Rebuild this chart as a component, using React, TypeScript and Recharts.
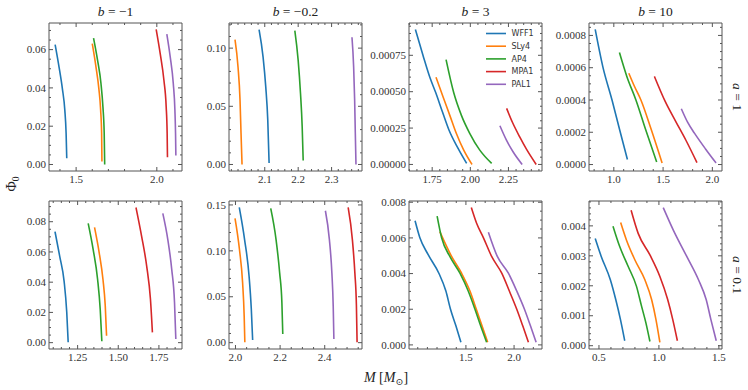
import React from 'react';
import { LineChart, Line, XAxis, YAxis, ReferenceArea } from 'recharts';

type Pt = [number, number];
type Series = { eos: string; pts: Pt[] };

const EOS_NAMES = ['WFF1', 'SLy4', 'AP4', 'MPA1', 'PAL1'];
const EOS_COLORS: Record<string, string> = {
  WFF1: '#1f77b4',
  SLy4: '#ff7f0e',
  AP4: '#2ca02c',
  MPA1: '#d62728',
  PAL1: '#9467bd',
};
const B_VALUES = ['\u22121', '\u22120.2', '3', '10'];
const A_VALUES = ['1', '0.1'];

// ---- row a = 1 ----
const a1_bm1: Series[] = [
  { eos: 'WFF1', pts: [[1.370, 0.0626], [1.394, 0.0510], [1.415, 0.0395], [1.430, 0.0284], [1.438, 0.0163], [1.442, 0.0033]] },
  { eos: 'SLy4', pts: [[1.600, 0.0631], [1.623, 0.0510], [1.641, 0.0395], [1.652, 0.0284], [1.658, 0.0163], [1.660, 0.0016]] },
  { eos: 'AP4', pts: [[1.608, 0.0660], [1.633, 0.0544], [1.654, 0.0423], [1.666, 0.0302], [1.674, 0.0163], [1.677, 0.0000]] },
  { eos: 'MPA1', pts: [[1.996, 0.0706], [2.021, 0.0579], [2.044, 0.0440], [2.058, 0.0302], [2.064, 0.0163], [2.066, 0.0038]] },
  { eos: 'PAL1', pts: [[2.062, 0.0681], [2.083, 0.0562], [2.102, 0.0423], [2.112, 0.0284], [2.116, 0.0163], [2.118, 0.0047]] },
];

const a1_bm02: Series[] = [
  { eos: 'WFF1', pts: [[2.083, 0.1160], [2.095, 0.0923], [2.103, 0.0667], [2.109, 0.0382], [2.113, 0.0012]] },
  { eos: 'SLy4', pts: [[2.011, 0.1074], [2.020, 0.0838], [2.026, 0.0553], [2.029, 0.0268], [2.032, 0.0000]] },
  { eos: 'AP4', pts: [[2.190, 0.1151], [2.200, 0.0895], [2.207, 0.0610], [2.212, 0.0325], [2.215, 0.0034]] },
  { eos: 'PAL1', pts: [[2.361, 0.1094], [2.366, 0.0838], [2.369, 0.0553], [2.371, 0.0268], [2.373, 0.0000]] },
];

const a1_b3: Series[] = [
  { eos: 'WFF1', pts: [[1.640, 0.000927], [1.690, 0.000749], [1.734, 0.000601], [1.773, 0.000494], [1.817, 0.000362], [1.860, 0.000237], [1.919, 0.000112], [1.976, 0.000007]] },
  { eos: 'SLy4', pts: [[1.775, 0.000599], [1.821, 0.000465], [1.865, 0.000339], [1.908, 0.000214], [1.956, 0.000100], [2.011, 0.000000]] },
  { eos: 'AP4', pts: [[1.841, 0.000720], [1.891, 0.000494], [1.941, 0.000339], [1.996, 0.000214], [2.061, 0.000100], [2.140, 0.000007]] },
  { eos: 'MPA1', pts: [[2.238, 0.000385], [2.279, 0.000283], [2.323, 0.000191], [2.367, 0.000107], [2.432, 0.000000]] },
  { eos: 'PAL1', pts: [[2.194, 0.000266], [2.236, 0.000169], [2.279, 0.000089], [2.340, 0.000000]] },
];

const a1_b10: Series[] = [
  { eos: 'WFF1', pts: [[0.811, 0.000837], [0.888, 0.000607], [0.983, 0.000397], [1.057, 0.000220], [1.138, 0.000031]] },
  { eos: 'SLy4', pts: [[1.152, 0.000566], [1.209, 0.000485], [1.277, 0.000397], [1.378, 0.000220], [1.490, 0.000010]] },
  { eos: 'AP4', pts: [[1.057, 0.000694], [1.132, 0.000546], [1.226, 0.000397], [1.321, 0.000220], [1.435, 0.000016]] },
  { eos: 'MPA1', pts: [[1.412, 0.000546], [1.520, 0.000393], [1.625, 0.000271], [1.733, 0.000149], [1.844, 0.000012]] },
  { eos: 'PAL1', pts: [[1.685, 0.000346], [1.750, 0.000261], [1.820, 0.000193], [1.929, 0.000098], [2.037, 0.000010]] },
];

// ---- row a = 0.1 ----
const a01_bm1: Series[] = [
  { eos: 'WFF1', pts: [[1.111, 0.0734], [1.140, 0.0571], [1.167, 0.0405], [1.183, 0.0204], [1.192, 0.0003]] },
  { eos: 'SLy4', pts: [[1.354, 0.0763], [1.383, 0.0593], [1.406, 0.0418], [1.420, 0.0243], [1.428, 0.0046]] },
  { eos: 'AP4', pts: [[1.315, 0.0789], [1.346, 0.0614], [1.373, 0.0418], [1.389, 0.0221], [1.399, 0.0009]] },
  { eos: 'MPA1', pts: [[1.609, 0.0894], [1.644, 0.0702], [1.675, 0.0505], [1.698, 0.0287], [1.710, 0.0068]] },
  { eos: 'PAL1', pts: [[1.774, 0.0855], [1.805, 0.0680], [1.829, 0.0483], [1.846, 0.0265], [1.854, 0.0024]] },
];

const a01_bm02: Series[] = [
  { eos: 'WFF1', pts: [[2.017, 0.1473], [2.041, 0.1120], [2.061, 0.0724], [2.071, 0.0364], [2.077, 0.0029]] },
  { eos: 'SLy4', pts: [[1.998, 0.1354], [2.018, 0.1012], [2.032, 0.0652], [2.039, 0.0292], [2.042, 0.0004]] },
  { eos: 'AP4', pts: [[2.158, 0.1462], [2.182, 0.1120], [2.198, 0.0760], [2.208, 0.0436], [2.212, 0.0094]] },
  { eos: 'MPA1', pts: [[2.505, 0.1473], [2.524, 0.1120], [2.535, 0.0760], [2.542, 0.0400], [2.545, 0.0004]] },
  { eos: 'PAL1', pts: [[2.403, 0.1437], [2.421, 0.1120], [2.432, 0.0760], [2.438, 0.0400], [2.441, 0.0040]] },
];

const a01_b3: Series[] = [
  { eos: 'WFF1', pts: [[0.972, 0.00696], [1.021, 0.00602], [1.108, 0.00506], [1.219, 0.00402], [1.292, 0.00302], [1.340, 0.00200], [1.396, 0.00107], [1.448, 0.00015]] },
  { eos: 'SLy4', pts: [[1.229, 0.00635], [1.351, 0.00496], [1.455, 0.00402], [1.542, 0.00302], [1.608, 0.00200], [1.667, 0.00107], [1.726, 0.00015]] },
  { eos: 'AP4', pts: [[1.201, 0.00722], [1.247, 0.00602], [1.333, 0.00496], [1.438, 0.00402], [1.524, 0.00302], [1.594, 0.00200], [1.653, 0.00107], [1.715, 0.00015]] },
  { eos: 'MPA1', pts: [[1.556, 0.00770], [1.611, 0.00682], [1.681, 0.00602], [1.767, 0.00496], [1.872, 0.00402], [1.951, 0.00302], [2.028, 0.00200], [2.090, 0.00107], [2.149, 0.00015]] },
  { eos: 'PAL1', pts: [[1.733, 0.00632], [1.826, 0.00496], [1.941, 0.00402], [2.028, 0.00302], [2.108, 0.00200], [2.170, 0.00107], [2.229, 0.00015]] },
];

const a01_b10: Series[] = [
  { eos: 'WFF1', pts: [[0.469, 0.00358], [0.519, 0.00298], [0.595, 0.00220], [0.640, 0.00154], [0.679, 0.00088], [0.715, 0.000165]] },
  { eos: 'SLy4', pts: [[0.681, 0.00411], [0.729, 0.00353], [0.799, 0.00287], [0.883, 0.00220], [0.939, 0.00154], [0.975, 0.00088], [1.008, 0.00011]] },
  { eos: 'AP4', pts: [[0.617, 0.00399], [0.673, 0.00331], [0.743, 0.00265], [0.813, 0.00198], [0.855, 0.00132], [0.891, 0.00077], [0.925, 0.00014]] },
  { eos: 'MPA1', pts: [[0.768, 0.00452], [0.827, 0.00375], [0.925, 0.00303], [1.008, 0.00231], [1.073, 0.00154], [1.115, 0.00088], [1.154, 0.000165]] },
  { eos: 'PAL1', pts: [[1.036, 0.00461], [1.120, 0.00386], [1.232, 0.00298], [1.330, 0.00220], [1.394, 0.00154], [1.433, 0.00088], [1.478, 0.000165]] },
];

// axis ranges, labelled ticks, minor tick step, label decimals
type Axes = { x: [number, number]; xMaj: number[]; xStep: number; xDec: number; y: [number, number]; yMaj: number[]; yStep: number; yDec: number };

const AX_a1_bm1: Axes = { x: [1.332, 2.156], xMaj: [1.5, 2.0], xStep: 0.1, xDec: 1, y: [-0.0034, 0.0739], yMaj: [0, 0.02, 0.04, 0.06], yStep: 0.005, yDec: 2 };
const AX_a1_bm02: Axes = { x: [1.993, 2.391], xMaj: [2.1, 2.2, 2.3], xStep: 0.02, xDec: 1, y: [-0.0056, 0.1216], yMaj: [0, 0.05, 0.1], yStep: 0.01, yDec: 2 };
const AX_a1_b3: Axes = { x: [1.598, 2.47], xMaj: [1.75, 2.0, 2.25], xStep: 0.05, xDec: 2, y: [-0.000045, 0.000972], yMaj: [0, 0.00025, 0.0005, 0.00075], yStep: 0.00005, yDec: 5 };
const AX_a1_b10: Axes = { x: [0.748, 2.098], xMaj: [1.0, 1.5, 2.0], xStep: 0.1, xDec: 1, y: [-0.00004, 0.000877], yMaj: [0, 0.0002, 0.0004, 0.0006, 0.0008], yStep: 0.00005, yDec: 4 };
const AX_a01_bm1: Axes = { x: [1.074, 1.892], xMaj: [1.25, 1.5, 1.75], xStep: 0.05, xDec: 2, y: [-0.0042, 0.0937], yMaj: [0, 0.02, 0.04, 0.06, 0.08], yStep: 0.005, yDec: 2 };
const AX_a01_bm02: Axes = { x: [1.971, 2.567], xMaj: [2.0, 2.2, 2.4], xStep: 0.05, xDec: 1, y: [-0.0069, 0.1543], yMaj: [0, 0.05, 0.1, 0.15], yStep: 0.01, yDec: 2 };
const AX_a01_b3: Axes = { x: [0.909, 2.29], xMaj: [1.5, 2.0], xStep: 0.1, xDec: 1, y: [-0.00023, 0.00807], yMaj: [0, 0.002, 0.004, 0.006, 0.008], yStep: 0.0005, yDec: 3 };
const AX_a01_b10: Axes = { x: [0.417, 1.526], xMaj: [0.5, 1.0, 1.5], xStep: 0.1, xDec: 1, y: [-0.00011, 0.00483], yMaj: [0, 0.001, 0.002, 0.003, 0.004], yStep: 0.0002, yDec: 3 };

const PANELS = [
  { row: 0, col: 0, series: a1_bm1, ax: AX_a1_bm1 },
  { row: 0, col: 1, series: a1_bm02, ax: AX_a1_bm02 },
  { row: 0, col: 2, series: a1_b3, ax: AX_a1_b3 },
  { row: 0, col: 3, series: a1_b10, ax: AX_a1_b10 },
  { row: 1, col: 0, series: a01_bm1, ax: AX_a01_bm1 },
  { row: 1, col: 1, series: a01_bm02, ax: AX_a01_bm02 },
  { row: 1, col: 2, series: a01_b3, ax: AX_a01_b3 },
  { row: 1, col: 3, series: a01_b10, ax: AX_a01_b10 },
];

// layout
const COL_LEFT = [49, 229, 409, 589];
const ROW_TOP = [23, 201];
const PW = 133;
const PH = 148;
const T = 4;
const R = 4;
const YW = 46;
const XH = 20;
const CW = YW + PW + R;
const CH = T + PH + XH;

const SERIF = '"Liberation Serif", "DejaVu Serif", serif';
const SANS = '"DejaVu Sans", sans-serif';
const FRAME = '#555';
const TXT = '#333';

const steps = (dom: [number, number], step: number) => {
  const out: number[] = [];
  for (let k = Math.ceil(dom[0] / step - 1e-6); k * step <= dom[1] + 1e-12; k++) {
    out.push(Number((k * step).toPrecision(10)));
  }
  return out;
};

const isMajor = (v: number, majors: number[], step: number) =>
  majors.some((m) => Math.abs(m - v) < step * 0.01);

const XTick = (props: any) => {
  const { x, y, payload, ax } = props;
  const v = payload.value;
  const major = isMajor(v, ax.xMaj, ax.xStep);
  const len = major ? 4 : 2;
  return (
    <g>
      <line x1={x} x2={x} y1={y} y2={y - len} stroke={FRAME} />
      <line x1={x} x2={x} y1={T} y2={T + len} stroke={FRAME} />
      {major && (
        <text x={x} y={y + 4} dy="0.71em" textAnchor="middle" fontSize={11} fontFamily={SERIF} fill={TXT}>
          {v.toFixed(ax.xDec)}
        </text>
      )}
    </g>
  );
};

const YTick = (props: any) => {
  const { x, y, payload, ax } = props;
  const v = payload.value;
  const major = isMajor(v, ax.yMaj, ax.yStep);
  const len = major ? 4 : 2;
  const right = YW + PW;
  return (
    <g>
      <line x1={x} x2={x + len} y1={y} y2={y} stroke={FRAME} />
      <line x1={right} x2={right - len} y1={y} y2={y} stroke={FRAME} />
      {major && (
        <text x={x - 3} y={y} dy="0.34em" textAnchor="end" fontSize={11} fontFamily={SERIF} fill={TXT}>
          {v.toFixed(ax.yDec)}
        </text>
      )}
    </g>
  );
};

const Panel = ({ series, ax, left, top }: { series: Series[]; ax: Axes; left: number; top: number }) => {
  const xTicks = steps(ax.x, ax.xStep);
  const yTicks = steps(ax.y, ax.yStep);
  return (
    <div style={{ position: 'absolute', left: left - YW, top: top - T }}>
      <LineChart width={CW} height={CH} margin={{ top: T, right: R, left: 0, bottom: 0 }}>
        <XAxis
          type="number"
          dataKey="x"
          domain={ax.x}
          allowDataOverflow
          ticks={xTicks}
          interval={0}
          tickSize={0}
          tickMargin={0}
          axisLine={false}
          tickLine={false}
          height={XH}
          tick={(p: any) => <XTick {...p} ax={ax} />}
        />
        <YAxis
          type="number"
          domain={ax.y}
          allowDataOverflow
          ticks={yTicks}
          interval={0}
          tickSize={0}
          tickMargin={0}
          axisLine={false}
          tickLine={false}
          width={YW}
          tick={(p: any) => <YTick {...p} ax={ax} />}
        />
        <ReferenceArea x1={ax.x[0]} x2={ax.x[1]} y1={ax.y[0]} y2={ax.y[1]} fill="none" stroke={FRAME} strokeWidth={1} ifOverflow="visible" />
        {series.map((s) => (
          <Line
            key={s.eos}
            data={s.pts.map(([x, y]) => ({ x, y }))}
            dataKey="y"
            type="monotone"
            stroke={EOS_COLORS[s.eos]}
            strokeWidth={1.6}
            dot={false}
            activeDot={false}
            isAnimationActive={false}
          />
        ))}
      </LineChart>
    </div>
  );
};

export default function App() {
  return (
    <div style={{ position: 'absolute', left: 0, top: 0, width: 748, height: 390, background: '#fff' }}>
      {PANELS.map((p) => (
        <Panel key={`${p.row}-${p.col}`} series={p.series} ax={p.ax} left={COL_LEFT[p.col]} top={ROW_TOP[p.row]} />
      ))}
      <svg width={748} height={390} style={{ position: 'absolute', left: 0, top: 0, pointerEvents: 'none' }}>
        {B_VALUES.map((b, i) => (
          <text key={b} x={COL_LEFT[i] + PW / 2} y={16} textAnchor="middle" fontSize={13.5} fontFamily={SERIF} fill="#222">
            <tspan fontStyle="italic">b</tspan> = {b}
          </text>
        ))}
        {A_VALUES.map((a, i) => (
          <text
            key={a}
            transform={`translate(738, ${ROW_TOP[i] + PH / 2}) rotate(90)`}
            textAnchor="middle"
            dy="0.34em"
            fontSize={13.5}
            fontFamily={SERIF}
            fill="#222"
          >
            <tspan fontStyle="italic">a</tspan> = {a}
          </text>
        ))}
        <text transform="translate(11, 184) rotate(-90)" textAnchor="middle" dy="0.34em" fontSize={14} fontFamily={SERIF} fill="#222">
          {'\u03A6'}
          <tspan dy={3} fontSize={9.5}>0</tspan>
        </text>
        <text x={386} y={382} textAnchor="middle" fontSize={14} fontFamily={SERIF} fill="#222">
          <tspan fontStyle="italic">M</tspan> [<tspan fontStyle="italic">M</tspan>
          <tspan dy={3} fontSize={9.5}>{'\u2299'}</tspan>
          <tspan dy={-3}>]</tspan>
        </text>
        {EOS_NAMES.map((n, i) => (
          <g key={n}>
            <line x1={486} x2={506} y1={33.5 + i * 12.7} y2={33.5 + i * 12.7} stroke={EOS_COLORS[n]} strokeWidth={1.6} />
            <text x={511.5} y={33.5 + i * 12.7} dy="0.34em" fontSize={8} fontFamily={SANS} fill={TXT}>
              {n}
            </text>
          </g>
        ))}
      </svg>
    </div>
  );
}
